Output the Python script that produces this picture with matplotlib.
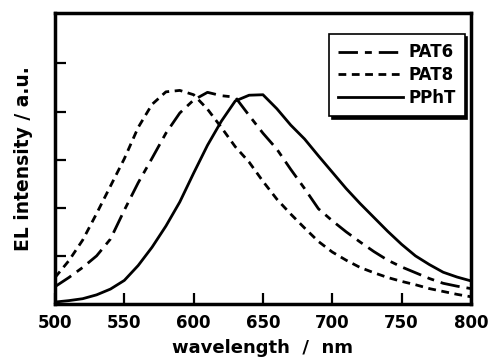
import matplotlib.pyplot as plt

wavelength = list(range(500, 801, 10))

pat6 = [0.36, 0.55, 0.76, 1.00, 1.35, 1.95, 2.52, 3.03, 3.55, 3.97, 4.24, 4.40, 4.33,
        4.30, 3.92, 3.55, 3.22, 2.80, 2.40, 1.98, 1.73, 1.50, 1.29, 1.09, 0.91, 0.77,
        0.65, 0.53, 0.43, 0.37, 0.32]

pat8 = [0.55, 0.90, 1.33, 1.88, 2.45, 3.02, 3.67, 4.15, 4.41, 4.44, 4.35, 4.05, 3.67,
        3.27, 2.95, 2.55, 2.18, 1.87, 1.58, 1.30, 1.08, 0.91, 0.76, 0.65, 0.55, 0.47,
        0.40, 0.32, 0.26, 0.20, 0.15]

ppht = [0.04, 0.07, 0.11, 0.19, 0.31, 0.49, 0.80, 1.18, 1.62, 2.12, 2.72, 3.30, 3.80,
        4.22, 4.34, 4.35, 4.06, 3.72, 3.43, 3.08, 2.74, 2.40, 2.09, 1.80, 1.51, 1.24,
        1.00, 0.82, 0.66, 0.56, 0.48]

labels = ["PAT6", "PAT8", "PPhT"]

plt.rcParams.update({"font.family": "DejaVu Sans", "font.weight": "bold"})
fig = plt.figure(figsize=(4.88, 3.6), dpi=100)
ax = fig.add_axes([0.1127, 0.1556, 0.8523, 0.8084])

lw = 2.0
l1, = ax.plot(wavelength, pat6, color="black", lw=lw, dashes=(7, 2.5, 2.5, 2.5))
l2, = ax.plot(wavelength, pat8, color="black", lw=lw, dashes=(2.8, 2))
l3, = ax.plot(wavelength, ppht, color="black", lw=lw)

ax.set_xlim(500, 800)
ax.set_ylim(0, 6.05)
ax.set_xticks([500, 550, 600, 650, 700, 750, 800])
ax.set_yticks([1, 2, 3, 4, 5])
ax.set_yticklabels([])
ax.tick_params(direction="in", length=8, width=1.6, labelsize=12, pad=7)
for lab in ax.get_xticklabels():
    lab.set_fontweight("bold")
for s in ax.spines.values():
    s.set_linewidth(2.5)

ax.set_xlabel("wavelength  /  nm", fontsize=13, fontweight="bold", labelpad=5)
ax.set_ylabel("EL intensity / a.u.", fontsize=13.5, fontweight="bold", labelpad=9)

leg = ax.legend([l1, l2, l3], labels, loc="upper right", bbox_to_anchor=(0.985, 0.927),
                borderaxespad=0, frameon=True, fancybox=False, framealpha=1,
                facecolor="white", edgecolor="black", fontsize=12, handlelength=3.9,
                handletextpad=0.3, borderpad=0.55, labelspacing=0.28,
                shadow={"color": "black", "alpha": 1})
leg.get_frame().set_linewidth(1.2)

fig.savefig("out.png", dpi=100)
